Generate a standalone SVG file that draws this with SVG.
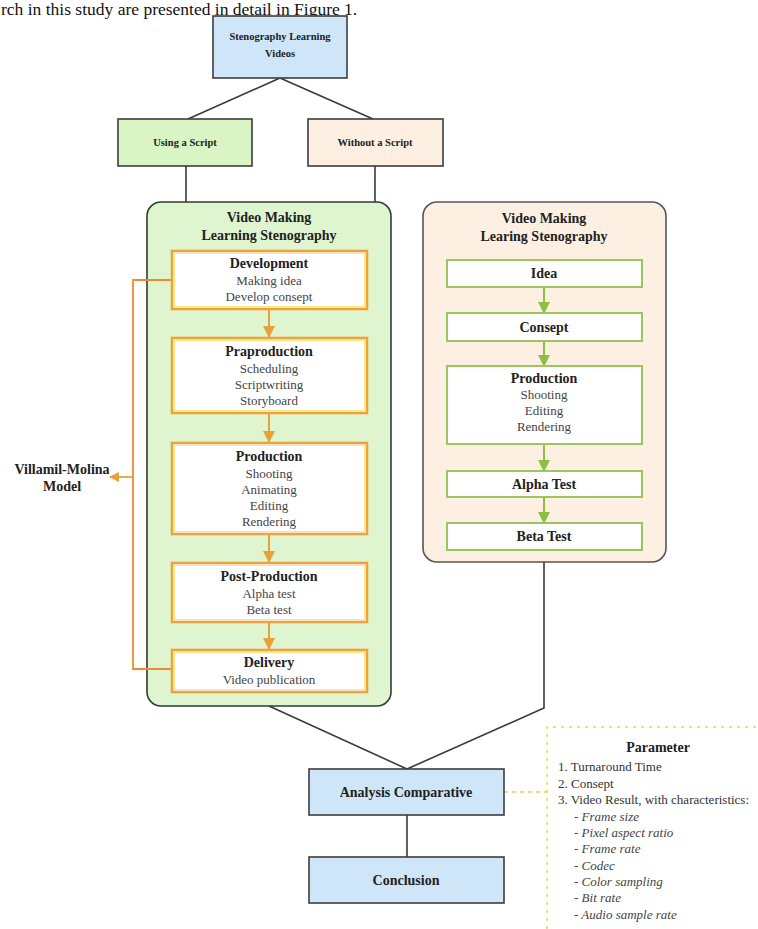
<svg xmlns="http://www.w3.org/2000/svg" width="758" height="929" viewBox="0 0 758 929">
<style>
text{font-family:"Liberation Serif","Times New Roman",serif;fill:#222}
.b{font-weight:bold;font-size:14px;text-anchor:middle}
.bs{font-weight:bold;font-size:10.5px;text-anchor:middle}
.r{font-size:13px;text-anchor:middle;fill:#444}
.p{font-size:13px;fill:#333}
.i{font-size:13px;fill:#444;font-style:italic}
.blue{fill:#cfe6f8;stroke:#3c3c3c;stroke-width:1.6}
.ln{stroke:#3a3a3a;stroke-width:1.6;fill:none}
.ob{fill:#fff;stroke:#f0a23a;stroke-width:2.6}
.oin{fill:none;stroke:#fbe68a;stroke-width:1}
.gb{fill:#fff;stroke:#9cc65c;stroke-width:2}
.oa{stroke:#e8a13a;stroke-width:2;fill:none}
.ga{stroke:#8cc043;stroke-width:2;fill:none}
</style>
<defs>
<marker id="ah" viewBox="0 0 12 12" refX="11" refY="6" markerWidth="12" markerHeight="12" markerUnits="userSpaceOnUse" orient="auto"><path d="M0,0 L12,6 L0,12 Z" fill="#e8a13a"/></marker>
<marker id="gh" viewBox="0 0 12 12" refX="11" refY="6" markerWidth="12" markerHeight="12" markerUnits="userSpaceOnUse" orient="auto"><path d="M0,0 L12,6 L0,12 Z" fill="#8cc043"/></marker>
<marker id="vh" viewBox="0 0 10 10" refX="9" refY="5" markerWidth="10" markerHeight="10" markerUnits="userSpaceOnUse" orient="auto"><path d="M0,0 L10,5 L0,10 Z" fill="#e8a13a"/></marker>
</defs>
<text x="1" y="15" style="font-size:17.5px;fill:#111">rch in this study are presented in detail in Figure 1.</text>

<g id="left-container">
<rect x="147" y="202" width="244" height="504" rx="14" fill="#dff5cf" stroke="#2e3e2e" stroke-width="1.6"/>
<text class="b" x="269" y="222">Video Making</text>
<text class="b" x="269" y="240">Learning Stenography</text>
</g>
<g id="right-container">
<rect x="423" y="202" width="243" height="360" rx="14" fill="#fdf0e2" stroke="#555" stroke-width="1.6"/>
<text class="b" x="544" y="223">Video Making</text>
<text class="b" x="544" y="241">Learing Stenography</text>
</g>

<g id="connectors">
<path class="ln" d="M280,78 L188,119 M280,78 L373,119"/>
<path class="ln" d="M186,166 L186,202 M375,166 L375,202"/>
<path class="ln" d="M269,706 L407,769 M544,562 L544,708 L407,769"/>
<path class="ln" d="M407,815 L407,857"/>
<path d="M504,792 L547,792" stroke="#e6d24a" stroke-width="1.4" stroke-dasharray="4,4" fill="none"/>
<path class="oa" d="M269,309 L269,337" marker-end="url(#ah)"/>
<path class="oa" d="M269,413 L269,442" marker-end="url(#ah)"/>
<path class="oa" d="M269,534 L269,562" marker-end="url(#ah)"/>
<path class="oa" d="M269,622 L269,649" marker-end="url(#ah)"/>
<path d="M172,280 L133,280 L133,669 L172,669" stroke="#f08a30" stroke-width="1.8" fill="none"/>
<path d="M133,477 L110,477" stroke="#e8a13a" stroke-width="1.8" fill="none" marker-end="url(#vh)"/>
<path class="ga" d="M544,287 L544,313" marker-end="url(#gh)"/>
<path class="ga" d="M544,341 L544,366" marker-end="url(#gh)"/>
<path class="ga" d="M544,444 L544,471" marker-end="url(#gh)"/>
<path class="ga" d="M544,497 L544,523" marker-end="url(#gh)"/>
</g>

<g id="start">
<rect class="blue" x="213" y="16" width="134" height="62"/>
<text class="bs" x="280" y="40">Stenography Learning</text>
<text class="bs" x="280" y="57">Videos</text>
</g>
<g id="using">
<rect x="118" y="119" width="134" height="47" fill="#d9f5c4" stroke="#3c3c3c" stroke-width="1.6"/>
<text class="bs" x="185" y="146">Using a Script</text>
</g>
<g id="without">
<rect x="308" y="119" width="135" height="47" fill="#fdf0e2" stroke="#3c3c3c" stroke-width="1.6"/>
<text class="bs" x="375" y="146">Without a Script</text>
</g>

<g id="development">
<rect class="ob" x="172" y="251" width="195" height="58"/>
<rect class="oin" x="174.5" y="253.5" width="190" height="53"/>
<text class="b" x="269" y="268">Development</text>
<text class="r" x="269" y="285">Making idea</text>
<text class="r" x="269" y="301">Develop consept</text>
</g>
<g id="praproduction">
<rect class="ob" x="172" y="338" width="195" height="75"/>
<rect class="oin" x="174.5" y="340.5" width="190" height="70"/>
<text class="b" x="269" y="356">Praproduction</text>
<text class="r" x="269" y="373">Scheduling</text>
<text class="r" x="269" y="389">Scriptwriting</text>
<text class="r" x="269" y="405">Storyboard</text>
</g>
<g id="production-left">
<rect class="ob" x="172" y="443" width="195" height="91"/>
<rect class="oin" x="174.5" y="445.5" width="190" height="86"/>
<text class="b" x="269" y="461">Production</text>
<text class="r" x="269" y="478">Shooting</text>
<text class="r" x="269" y="494">Animating</text>
<text class="r" x="269" y="510">Editing</text>
<text class="r" x="269" y="526">Rendering</text>
</g>
<g id="post-production">
<rect class="ob" x="172" y="563" width="195" height="59"/>
<rect class="oin" x="174.5" y="565.5" width="190" height="54"/>
<text class="b" x="269" y="581">Post-Production</text>
<text class="r" x="269" y="598">Alpha test</text>
<text class="r" x="269" y="614">Beta test</text>
</g>
<g id="delivery">
<rect class="ob" x="172" y="650" width="195" height="42"/>
<rect class="oin" x="174.5" y="652.5" width="190" height="37"/>
<text class="b" x="269" y="667">Delivery</text>
<text class="r" x="269" y="684">Video publication</text>
</g>
<g id="villamil">
<text class="b" x="62" y="474">Villamil-Molina</text>
<text class="b" x="62" y="491">Model</text>
</g>

<g id="idea">
<rect class="gb" x="447" y="260" width="195" height="27"/>
<text class="b" x="544" y="278">Idea</text>
</g>
<g id="consept">
<rect class="gb" x="447" y="313" width="195" height="28"/>
<text class="b" x="544" y="332">Consept</text>
</g>
<g id="production-right">
<rect class="gb" x="447" y="366" width="195" height="78"/>
<text class="b" x="544" y="383">Production</text>
<text class="r" x="544" y="399">Shooting</text>
<text class="r" x="544" y="415">Editing</text>
<text class="r" x="544" y="431">Rendering</text>
</g>
<g id="alpha">
<rect class="gb" x="447" y="471" width="195" height="26"/>
<text class="b" x="544" y="489">Alpha Test</text>
</g>
<g id="beta">
<rect class="gb" x="447" y="523" width="195" height="27"/>
<text class="b" x="544" y="541">Beta Test</text>
</g>

<g id="analysis">
<rect class="blue" x="309" y="769" width="195" height="46"/>
<text class="b" x="406" y="797">Analysis Comparative</text>
</g>
<g id="conclusion">
<rect class="blue" x="309" y="857" width="195" height="46"/>
<text class="b" x="406" y="885">Conclusion</text>
</g>

<g id="parameter">
<path d="M547,929 L547,727 L760,727" stroke="#e6d24a" stroke-width="1.4" stroke-dasharray="3,5" fill="none"/>
<text class="b" x="658" y="752">Parameter</text>
<text class="p" x="558" y="771">1. Turnaround Time</text>
<text class="p" x="558" y="788">2. Consept</text>
<text class="p" x="558" y="804">3. Video Result, with characteristics:</text>
<text class="i" x="574" y="821">- Frame size</text>
<text class="i" x="574" y="837">- Pixel aspect ratio</text>
<text class="i" x="574" y="853">- Frame rate</text>
<text class="i" x="574" y="870">- Codec</text>
<text class="i" x="574" y="886">- Color sampling</text>
<text class="i" x="574" y="902">- Bit rate</text>
<text class="i" x="574" y="919">- Audio sample rate</text>
</g>
</svg>
